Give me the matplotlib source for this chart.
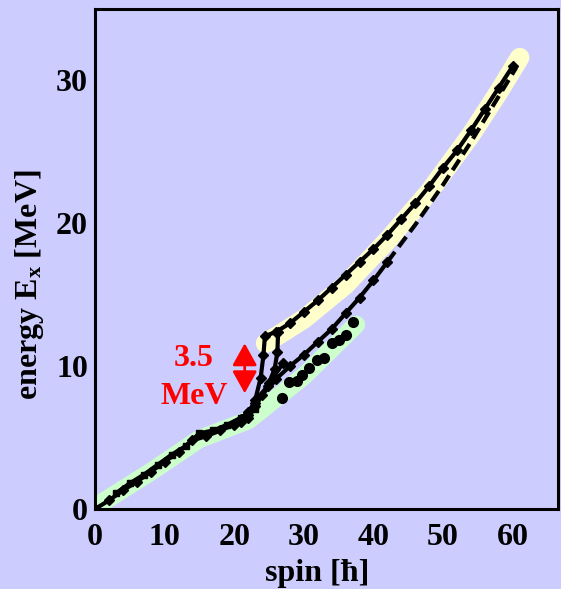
import numpy as np
import matplotlib
matplotlib.use('Agg')
import matplotlib.pyplot as plt

# level energies (MeV) vs spin (hbar)
gs_even_spin = [0, 2, 4, 6, 8, 10, 12, 14, 16, 18, 20, 22]
gs_even_e = [0.0, 0.6, 1.3, 1.9, 2.6, 3.3, 4.0, 4.8, 5.1, 5.5, 5.9, 6.4]
gs_odd_spin = [3, 5, 7, 9, 11, 13, 15, 17, 19, 21, 23]
gs_odd_e = [1.1, 1.8, 2.4, 3.1, 3.8, 4.4, 5.3, 5.5, 5.9, 6.4, 7.0]

sd1_spin = [22, 23, 23.8, 24.2, 24.4, 26, 28, 30, 32, 34, 36, 38, 40, 42, 44, 46, 48, 50, 52, 54, 56, 58, 60]
sd1_e = [6.6, 7.6, 9.2, 10.8, 12.1, 12.4, 13.0, 13.8, 14.6, 15.5, 16.4, 17.3, 18.2, 19.2, 20.3, 21.4, 22.6, 23.9, 25.1, 26.5, 28.0, 29.5, 31.0]

sd2_spin = [21, 23, 24.8, 25.8, 26.2, 26.3]
sd2_e = [6.1, 7.2, 8.6, 9.8, 11.0, 12.4]

mid_spin = [21, 23, 25, 27]
mid_e = [6.3, 7.4, 8.8, 10.2]

c_spin = [22, 24, 26, 28, 30, 32, 34, 36, 38, 40, 42]
c_e = [6.8, 8.0, 9.1, 10.0, 10.8, 11.7, 12.6, 13.7, 14.8, 16.0, 17.3]
c_dash_spin = [42, 44, 46, 48, 50, 52, 54, 56, 58, 60.5]
c_dash_e = [17.3, 18.6, 19.9, 21.3, 22.7, 24.2, 25.7, 27.3, 28.9, 30.9]

dot_spin = [26.8, 27.8, 29.0, 29.8, 30.8, 31.9, 32.9, 34.1, 35.0, 36.0, 37.0]
dot_e = [7.8, 8.9, 8.95, 9.4, 9.9, 10.4, 10.6, 11.6, 11.8, 12.2, 13.1]

# highlighted regions
green_spin = [0.5, 8, 15, 22, 30, 37.5]
green_e = [0.3, 2.6, 4.9, 6.2, 9.3, 12.9]
yellow_spin = [24.5, 30, 36, 42, 48, 54, 58, 61]
yellow_e = [11.6, 13.3, 15.7, 18.8, 22.2, 26.2, 29.2, 31.6]

gap_low = 8.1
gap = 3.5

bg = '#ccccff'
plt.rcParams['font.family'] = ['Liberation Serif', 'DejaVu Serif']
plt.rcParams['font.weight'] = 'bold'
plt.rcParams['mathtext.fontset'] = 'custom'
plt.rcParams['mathtext.rm'] = 'Liberation Serif:bold'
plt.rcParams['mathtext.it'] = 'Liberation Serif:bold'
plt.rcParams['mathtext.bf'] = 'Liberation Serif:bold'
plt.rcParams['mathtext.default'] = 'rm'

fig = plt.figure(figsize=(5.61, 5.89), dpi=100, facecolor=bg)
ax = fig.add_axes([95/561, 1-509/589, 463/561, 500/589])
ax.set_facecolor(bg)

ax.plot(green_spin, green_e, color='#ccffcc', lw=13, solid_capstyle='round', solid_joinstyle='round', zorder=1)
ax.plot(yellow_spin, yellow_e, color='#ffffcc', lw=14, solid_capstyle='round', solid_joinstyle='round', zorder=1)

kw = dict(color='black', lw=3, marker='D', ms=5, zorder=3)
ax.plot(gs_even_spin, gs_even_e, **kw)
ax.plot(gs_odd_spin, gs_odd_e, color='black', lw=3, marker='s', ms=5, zorder=3)
ax.plot(sd1_spin, sd1_e, **kw)
ax.plot(sd2_spin, sd2_e, **kw)
ax.plot(mid_spin, mid_e, **kw)
ax.plot(c_spin, c_e, **kw)
ax.plot(c_dash_spin, c_dash_e, color='black', lw=3, ls=(0, (3, 1.5)), zorder=3)
ax.plot(dot_spin, dot_e, 'o', color='black', ms=7, zorder=3)

# energy gap arrow
ax.annotate('', xy=(21.5, gap_low + gap), xytext=(21.5, gap_low),
            arrowprops=dict(arrowstyle='<|-|>,head_length=0.45,head_width=0.25', color='red', lw=2,
                            mutation_scale=30, shrinkA=0, shrinkB=0), zorder=2)
ax.text(14.1, 10.5, '%.1f' % gap, color='red', fontsize=23, fontweight='bold', ha='center', va='center')
ax.text(14.2, 7.9, 'MeV', color='red', fontsize=23, fontweight='bold', ha='center', va='center')

ax.set_xlim(0, 66.5)
ax.set_ylim(0, 35)
ax.set_xticks([0, 10, 20, 30, 40, 50, 60])
ax.set_yticks([0, 10, 20, 30])
ax.tick_params(length=0, labelsize=23)
ax.tick_params(axis='x', pad=10)
ax.tick_params(axis='y', pad=5)
for s in ax.spines.values():
    s.set_linewidth(2.2)

ax.set_xlabel('spin [ħ]', fontsize=23, fontweight='bold')
ax.set_ylabel(r'energy E$_\mathrm{x}$ [MeV]', fontsize=23, fontweight='bold')
ax.xaxis.set_label_coords(0.48, -0.1)
ax.yaxis.set_label_coords(-0.106, 0.448)

fig.savefig('out.png', dpi=100, facecolor=bg)
